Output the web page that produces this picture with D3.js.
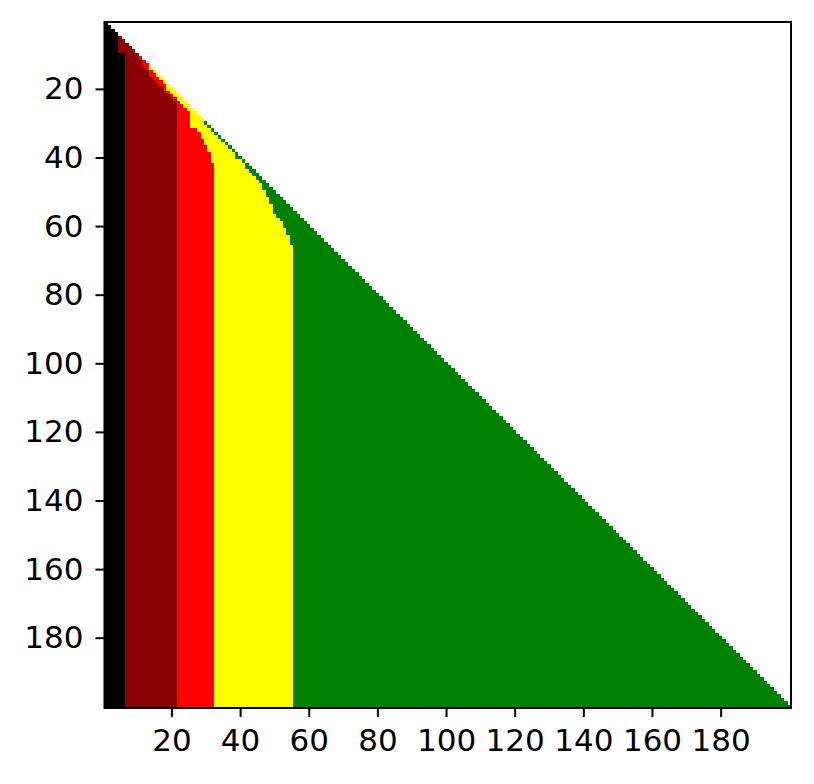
<!DOCTYPE html>
<html>
<head>
<meta charset="utf-8">
<script src="https://cdn.jsdelivr.net/npm/d3@7"></script>
<style>
  html, body { margin: 0; padding: 0; background: #ffffff; }
  svg { display: block; }
</style>
</head>
<body>
<svg id="chart" width="814" height="784"></svg>
<script>
// ---- data ----
const rowCount = 200;                       // rows and columns 1..200
const tickValues = [20, 40, 60, 80, 100, 120, 140, 160, 180];
const levelColors = ["#000000", "#8b0000", "#ff0000", "#ffff00", "#008000"]; // black, darkred, red, yellow, green

// first column of each colour level, row by row, starting at the first row where it appears
// (the last value holds for all following rows)
const darkredFirstRow = 5;
const darkredStart = [5, 5, 5, 5, 5, 7];
const redFirstRow = 11;
const redStart = [11, 12, 12, 13, 14, 14, 15, 16, 17, 18, 19, 20, 21, 22];
const yellowFirstRow = 14;
const yellowStart = [14, 15, 16, 17, 18, 19, 19, 20, 21, 22, 23, 24, 25, 26, 26, 26, 26, 26,
                     28, 29, 29, 30, 30, 31, 31, 32, 32, 32, 33];
const greenFirstRow = 30;
const greenStart = [30, 31, 32, 33, 34, 35, 36, 37, 38, 39, 39, 41, 42, 42, 43, 44, 45, 46, 47,
                    47, 48, 48, 49, 49, 50, 50, 50, 51, 52, 53, 53, 54, 54, 55, 55, 55, 56];

const levelStarts = [
  [darkredFirstRow, darkredStart],
  [redFirstRow, redStart],
  [yellowFirstRow, yellowStart],
  [greenFirstRow, greenStart]
];

// ---- layout ----
const svg = d3.select("#chart");
const plotLeft = 104.5, plotRight = 791, plotTop = 22, plotBottom = 708;

const xScale = d3.scaleLinear().domain([0.5, rowCount + 0.5]).range([plotLeft, plotRight]);
const yScale = d3.scaleLinear().domain([0.5, rowCount + 0.5]).range([plotTop, plotBottom]);

// build cell segments
const segments = [];
for (let r = 1; r <= rowCount; r++) {
  const s = [1];
  levelStarts.forEach(([first, arr]) => {
    let v = r < first ? r + 1 : arr[Math.min(r - first, arr.length - 1)];
    v = Math.max(v, s[s.length - 1]);
    s.push(Math.min(v, r + 1));
  });
  s.push(r + 1);
  for (let i = 0; i < levelColors.length; i++) {
    const c0 = s[i], c1 = s[i + 1] - 1;
    if (c1 >= c0) segments.push({ row: r, c0, c1, level: i });
  }
}

svg.append("g").selectAll("rect.cell")
  .data(segments)
  .join("rect")
  .attr("class", "cell")
  .attr("x", d => xScale(d.c0 - 0.5))
  .attr("width", d => xScale(d.c1 + 0.5) - xScale(d.c0 - 0.5))
  .attr("y", d => yScale(d.row - 0.5))
  .attr("height", d => yScale(d.row + 0.5) - yScale(d.row - 0.5))
  .attr("fill", d => levelColors[d.level])
  .attr("shape-rendering", "crispEdges");

// axes
const fontFamily = "'DejaVu Sans', sans-serif";
const xAxisG = svg.append("g")
  .attr("transform", `translate(0,${plotBottom})`)
  .call(d3.axisBottom(xScale).tickValues(tickValues).tickSize(9).tickPadding(12));
const yAxisG = svg.append("g")
  .attr("transform", `translate(${plotLeft},0)`)
  .call(d3.axisLeft(yScale).tickValues(tickValues).tickSize(9).tickPadding(12));

[xAxisG, yAxisG].forEach(ax => {
  ax.select(".domain").remove();
  ax.selectAll(".tick line").attr("stroke", "#000").attr("stroke-width", 2);
  ax.selectAll(".tick text")
    .attr("fill", "#000")
    .style("font-family", fontFamily)
    .style("font-size", "31px");
});

// frame
svg.append("rect")
  .attr("x", plotLeft)
  .attr("y", plotTop)
  .attr("width", plotRight - plotLeft)
  .attr("height", plotBottom - plotTop)
  .attr("fill", "none")
  .attr("stroke", "#000")
  .attr("stroke-width", 2);
</script>
</body>
</html>
